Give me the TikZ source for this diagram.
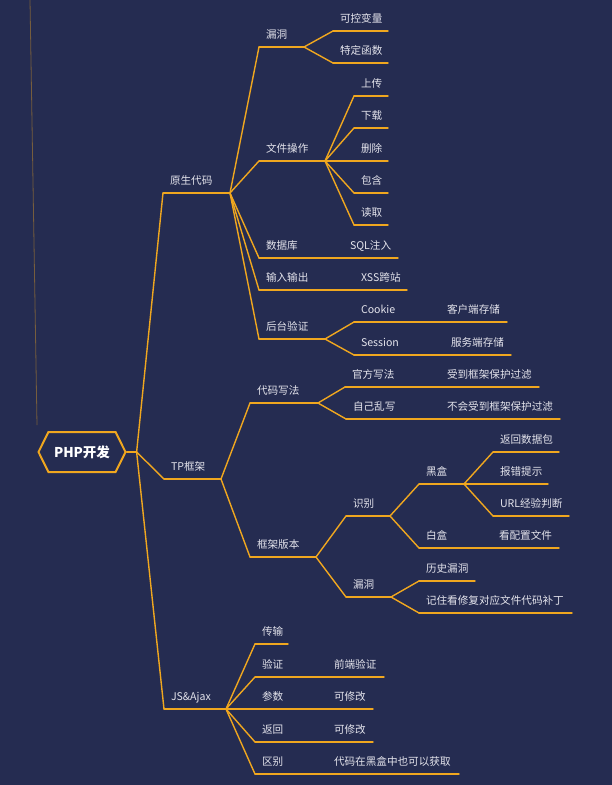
\documentclass[tikz,border=0pt]{standalone}
\usepackage{fontspec}
\newfontfamily\cjk{Noto Sans CJK SC}
\usetikzlibrary{shapes.symbols, positioning, calc}
\definecolor{bgblue}{HTML}{252C51}
\definecolor{branch}{HTML}{F0A71F}
\definecolor{label}{HTML}{E4E4EC}
\tikzstyle{ln} = [draw=branch, line width=1.4pt, line cap=round]
\tikzset{topic/.style={anchor=south west, inner xsep=7pt, inner ysep=6.5pt,
        outer sep=0pt, text height=8pt, text depth=2pt, text=label,
        font=\cjk\fontsize{10.6}{12}\selectfont, align=left,
        /utils/exec={\pgfmathsetlengthmacro\topicw{#1-14pt}},
        text width=\topicw,
        append after command={
            (\tikzlastnode.south west) edge[ln] (\tikzlastnode.south east)
        }
    },
    rootnode/.style={signal, signal to=east and west, signal pointer angle=127,
        draw=branch, line width=2pt, fill=bgblue, text=white, inner sep=0pt,
        font=\cjk\bfseries\fontsize{13.5}{16}\selectfont,
        minimum width=87pt, minimum height=40pt}
}

\begin{document}
\begin{tikzpicture}[x=1pt, y=-1pt]
    \useasboundingbox (0,0) rectangle (612,785);
    \fill[bgblue] (0,0) rectangle (612,785);
    \draw[draw=branch!40!bgblue, line width=0.8pt] (30,0) -- (37,425);

    \node [rootnode] (root) at (82,452) {PHP开发};
    \coordinate [right=10pt of root.east] (rfan);

    \node [topic=67] (ysdm) at (163,193) {原生代码};
    \node [topic=57] (tpkj) at (164,479) {TP框架};
    \node [topic=62] (jsax) at (164,709) {JS\&Ajax};

    % 原生代码
    \node [topic=45] (ldong) at (259,47) {漏洞};
    \node [topic=55] (kkbl) at (333,31) {可控变量};
    \node [topic=55] (tdhs) at (333,63) {特定函数};
    \node [topic=66] (wjcz) at (259,161) {文件操作};
    \node [topic=34] (shch) at (354,96) {上传};
    \node [topic=34] (xzai) at (354,128) {下载};
    \node [topic=34] (shcu) at (354,161) {删除};
    \node [topic=34] (baoh) at (354,193) {包含};
    \node [topic=34] (duqu) at (354,225) {读取};
    \node [topic=84] (sjku) at (259,258) {数据库};
    \node [topic=55] (sqlz) at (sjku.south east) {SQL注入};
    \node [topic=95] (srsc) at (259,290) {输入输出};
    \node [topic=53] (xssk) at (srsc.south east) {XSS跨站};
    \node [topic=66] (htyz) at (259,339) {后台验证};
    \node [topic=86] (cookie) at (354,322) {Cookie};
    \node [topic=67] (khdc) at (cookie.south east) {客户端存储};
    \node [topic=90] (session) at (354,355) {Session};
    \node [topic=67] (fwdc) at (session.south east) {服务端存储};

    % TP框架
    \node [topic=68] (dmxf) at (250,403) {代码写法};
    \node [topic=95] (gfxf) at (345,387) {官方写法};
    \node [topic=99] (sdgl) at (gfxf.south east) {受到框架保护过滤};
    \node [topic=94] (zjlx) at (346,419) {自己乱写};
    \node [topic=120] (bhgl) at (zjlx.south east) {不会受到框架保护过滤};
    \node [topic=66] (kjbb) at (250,557) {框架版本};
    \node [topic=44] (shib) at (346,516) {识别};
    \node [topic=45] (heih) at (419,484) {黑盒};
    \node [topic=66] (fhsj) at (493,452) {返回数据包};
    \node [topic=55] (bcts) at (493,484) {报错提示};
    \node [topic=76] (urlp) at (493,516) {URL经验判断};
    \node [topic=73] (baih) at (419,548) {白盒};
    \node [topic=67] (kpzw) at (baih.south east) {看配置文件};
    \node [topic=45] (ldtp) at (346,597) {漏洞};
    \node [topic=56] (lsld) at (419,581) {历史漏洞};
    \node [topic=153] (jzbd) at (419,613) {记住看修复对应文件代码补丁};

    % JS&Ajax
    \node [topic=33] (chsh) at (255,644) {传输};
    \node [topic=72] (yanz) at (255,677) {验证};
    \node [topic=57] (qdyz) at (yanz.south east) {前端验证};
    \node [topic=72] (cshu) at (255,709) {参数};
    \node [topic=46] (kxga) at (cshu.south east) {可修改};
    \node [topic=72] (fhui) at (255,742) {返回};
    \node [topic=46] (kxgb) at (fhui.south east) {可修改};
    \node [topic=72] (qbie) at (255,774) {区别};
    \node [topic=132] (dmhh) at (qbie.south east) {代码在黑盒中也可以获取};

    \draw[ln] (root.east) -- (rfan);
    \draw[ln] (rfan) edge (ysdm.south west) edge (tpkj.south west)
        edge (jsax.south west);
    \draw[ln] (ysdm.south east) edge (ldong.south west) edge (wjcz.south west)
        edge (sjku.south west) edge (srsc.south west) edge (htyz.south west);
    \draw[ln] (ldong.south east) edge (kkbl.south west) edge (tdhs.south west);
    \draw[ln] (wjcz.south east) edge (shch.south west) edge (xzai.south west)
        edge (shcu.south west) edge (baoh.south west) edge (duqu.south west);
    \draw[ln] (htyz.south east) edge (cookie.south west) edge (session.south west);
    \draw[ln] (tpkj.south east) edge (dmxf.south west) edge (kjbb.south west);
    \draw[ln] (dmxf.south east) edge (gfxf.south west) edge (zjlx.south west);
    \draw[ln] (kjbb.south east) edge (shib.south west) edge (ldtp.south west);
    \draw[ln] (shib.south east) edge (heih.south west) edge (baih.south west);
    \draw[ln] (heih.south east) edge (fhsj.south west) edge (bcts.south west)
        edge (urlp.south west);
    \draw[ln] (ldtp.south east) edge (lsld.south west) edge (jzbd.south west);
    \draw[ln] (jsax.south east) edge (chsh.south west) edge (yanz.south west)
        edge (cshu.south west) edge (fhui.south west) edge (qbie.south west);
\end{tikzpicture}
\end{document}
